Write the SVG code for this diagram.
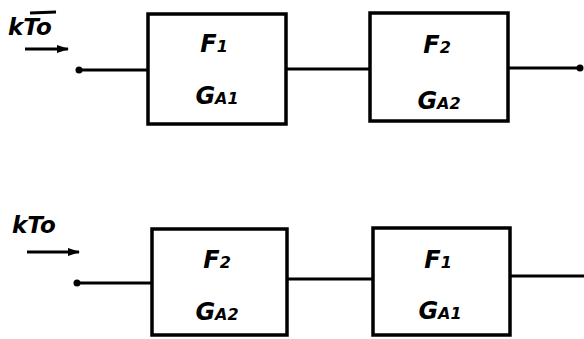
<svg xmlns="http://www.w3.org/2000/svg" width="584" height="339" viewBox="0 0 584 339">
<style>
.box{fill:#fff;stroke:#000;stroke-width:3.5}
.ln{fill:none;stroke:#000;stroke-width:3}
.t{font-family:"DejaVu Sans",sans-serif;font-style:italic;font-weight:bold;font-size:24px;fill:#000;text-anchor:middle}
.s{font-size:16px}
.k{font-family:"DejaVu Sans",sans-serif;font-style:italic;font-weight:bold;font-size:23px;fill:#000}
</style>
<defs>
<marker id="ah" markerWidth="12" markerHeight="8" refX="11" refY="4" orient="auto" markerUnits="userSpaceOnUse">
<path d="M0,0 L12,4 L0,8 z" fill="#000"/>
</marker>
</defs>
<g id="connectors">
<line class="ln" x1="79" y1="70" x2="148" y2="70"/>
<line class="ln" x1="286" y1="69" x2="370" y2="69"/>
<line class="ln" x1="508" y1="68" x2="580" y2="68"/>
<circle cx="79" cy="70" r="3.5"/>
<circle cx="580" cy="68" r="3.5"/>
<line class="ln" x1="25" y1="49" x2="68" y2="49" marker-end="url(#ah)"/>
<line class="ln" x1="77" y1="283" x2="152" y2="283"/>
<line class="ln" x1="287" y1="279" x2="373" y2="279"/>
<line class="ln" x1="510" y1="276" x2="584" y2="276"/>
<circle cx="77" cy="283" r="3.5"/>
<line class="ln" x1="27" y1="252" x2="79" y2="252" marker-end="url(#ah)"/>
</g>
<g id="label-top"><text class="k" x="8" y="35">kTo</text><line class="ln" x1="30" y1="13" x2="56" y2="12" stroke-width="2.5"/></g>
<g id="n1"><rect class="box" x="148" y="14" width="138" height="110"/>
<text class="t" x="214" y="52">F<tspan class="s">1</tspan></text>
<text class="t" x="217" y="104">G<tspan class="s">A1</tspan></text></g>
<g id="n2"><rect class="box" x="370" y="13" width="138" height="108"/>
<text class="t" x="437" y="53">F<tspan class="s">2</tspan></text>
<text class="t" x="439" y="109">G<tspan class="s">A2</tspan></text></g>
<g id="label-bot"><text class="k" x="12" y="233">kTo</text></g>
<g id="n3"><rect class="box" x="152" y="229" width="135" height="106"/>
<text class="t" x="217" y="268">F<tspan class="s">2</tspan></text>
<text class="t" x="217" y="320">G<tspan class="s">A2</tspan></text></g>
<g id="n4"><rect class="box" x="373" y="228" width="137" height="107"/>
<text class="t" x="438" y="268">F<tspan class="s">1</tspan></text>
<text class="t" x="440" y="319">G<tspan class="s">A1</tspan></text></g>
</svg>
